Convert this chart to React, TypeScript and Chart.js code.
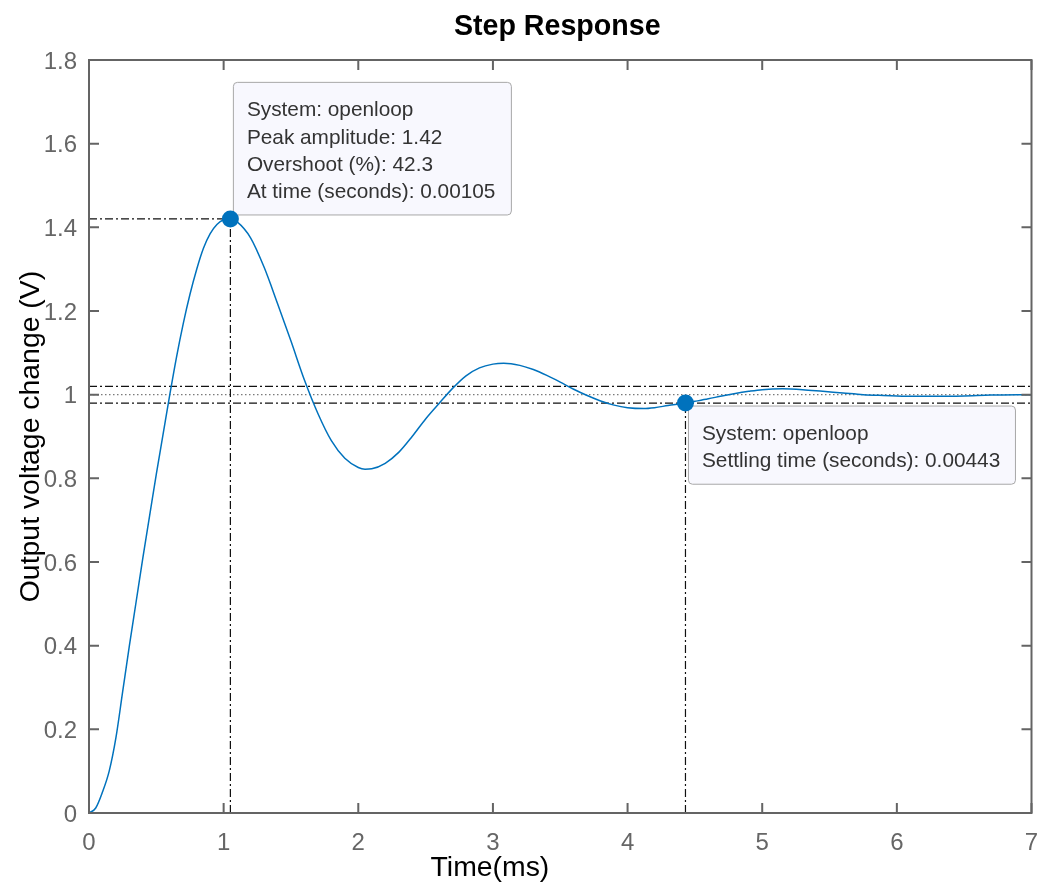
import React, { useEffect, useRef } from "react";
import { Chart, registerables } from "chart.js";

Chart.register(...registerables);

// ---- data ----
const timeMs = [
  0, 0.05, 0.1, 0.15, 0.2, 0.25, 0.3, 0.35, 0.4, 0.45, 0.5, 0.55, 0.6, 0.65, 0.7, 0.75, 0.8, 0.85, 0.9, 0.95, 1.0, 1.05,
  1.1, 1.2, 1.3, 1.4, 1.5, 1.6, 1.7, 1.8, 1.9, 2.0, 2.05, 2.1, 2.2, 2.3, 2.4, 2.5, 2.6, 2.7, 2.8, 2.9, 3.0, 3.08,
  3.2, 3.3, 3.4, 3.5, 3.6, 3.7, 3.8, 3.9, 4.0, 4.12, 4.2, 4.3, 4.43, 4.5, 4.6, 4.7, 4.8, 4.9, 5.0, 5.15,
  5.3, 5.45, 5.6, 5.75, 5.9, 6.1, 6.3, 6.5, 6.7, 7.0,
];
const outputV = [
  0, 0.012, 0.05, 0.1, 0.18, 0.29, 0.4, 0.505, 0.61, 0.71, 0.81, 0.905, 1.0, 1.09, 1.17, 1.24, 1.3, 1.35, 1.385, 1.407, 1.418, 1.42,
  1.413, 1.375, 1.305, 1.218, 1.128, 1.035, 0.955, 0.89, 0.848, 0.826, 0.822, 0.823, 0.836, 0.862, 0.9, 0.942, 0.979, 1.015, 1.045, 1.064, 1.073, 1.075,
  1.07, 1.06, 1.046, 1.03, 1.013, 0.998, 0.985, 0.975, 0.969, 0.967, 0.969, 0.974, 0.98, 0.984, 0.99, 0.997, 1.003, 1.008, 1.012, 1.014,
  1.012, 1.008, 1.004, 1.0, 0.998, 0.996, 0.996, 0.997, 0.999, 1.0,
];

const peakTime = 1.05;
const peakAmplitude = 1.42;
const settlingTime = 4.43;
const settlingValue = 0.98;
const finalValue = 1.0;
const bandUpper = 1.02;
const bandLower = 0.98;

const xTickValues = [0, 1, 2, 3, 4, 5, 6, 7];
const xTickLabels = ["0", "1", "2", "3", "4", "5", "6", "7"];
const yTickValues = [0, 0.2, 0.4, 0.6, 0.8, 1.0, 1.2, 1.4, 1.6, 1.8];
const yTickLabels = ["0", "0.2", "0.4", "0.6", "0.8", "1", "1.2", "1.4", "1.6", "1.8"];

const titleText = "Step Response";
const xTitle = "Time(ms)";
const yTitle = "Output voltage change (V)";
const peakTipLines = ["System: openloop", "Peak amplitude: 1.42", "Overshoot (%): 42.3", "At time (seconds): 0.00105"];
const settleTipLines = ["System: openloop", "Settling time (seconds): 0.00443"];

const FONT = "'Liberation Sans', Arial, Helvetica, sans-serif";
const BLUE = "#0072BD";
const AXIS = "#646464";
const DASHDOT = [8, 3, 2, 3];

function drawTip(ctx: CanvasRenderingContext2D, lines: string[], left: number, top: number | null, bottom: number | null) {
  ctx.save();
  ctx.font = `20.8px ${FONT}`;
  let w = 0;
  lines.forEach((l) => (w = Math.max(w, ctx.measureText(l).width)));
  const width = Math.round(w + 29);
  const height = 34 + (lines.length - 1) * 27.2 + 17;
  const y0 = top !== null ? top : (bottom as number) - height;
  const r = 4;
  ctx.beginPath();
  ctx.moveTo(left + r, y0);
  ctx.lineTo(left + width - r, y0);
  ctx.arcTo(left + width, y0, left + width, y0 + r, r);
  ctx.lineTo(left + width, y0 + height - r);
  ctx.arcTo(left + width, y0 + height, left + width - r, y0 + height, r);
  ctx.lineTo(left + r, y0 + height);
  ctx.arcTo(left, y0 + height, left, y0 + height - r, r);
  ctx.lineTo(left, y0 + r);
  ctx.arcTo(left, y0, left + r, y0, r);
  ctx.closePath();
  ctx.fillStyle = "#f8f8fe";
  ctx.fill();
  ctx.strokeStyle = "#a8a8a8";
  ctx.lineWidth = 1;
  ctx.stroke();
  ctx.fillStyle = "#333333";
  ctx.textAlign = "left";
  ctx.textBaseline = "alphabetic";
  lines.forEach((l, i) => ctx.fillText(l, left + 13.5, y0 + 34 + i * 27.2));
  ctx.restore();
}

const overlayPlugin = {
  id: "overlay",
  beforeDatasetsDraw(chart: any) {
    const ctx = chart.ctx as CanvasRenderingContext2D;
    const xs = chart.scales.x;
    const ys = chart.scales.y;
    drawTip(ctx, peakTipLines, xs.getPixelForValue(peakTime) + 3, null, ys.getPixelForValue(peakAmplitude) - 4);
    drawTip(ctx, settleTipLines, xs.getPixelForValue(settlingTime) + 3, ys.getPixelForValue(settlingValue) + 3, null);
  },
  afterDraw(chart: any) {
    const ctx = chart.ctx as CanvasRenderingContext2D;
    const { left, right, top, bottom } = chart.chartArea;
    const xs = chart.scales.x;
    const ys = chart.scales.y;
    ctx.save();
    ctx.strokeStyle = AXIS;
    ctx.lineWidth = 2;
    ctx.strokeRect(left, top, right - left, bottom - top);
    const tl = 10;
    ctx.beginPath();
    xTickValues.forEach((v) => {
      const px = xs.getPixelForValue(v);
      ctx.moveTo(px, bottom);
      ctx.lineTo(px, bottom - tl);
      ctx.moveTo(px, top);
      ctx.lineTo(px, top + tl);
    });
    yTickValues.forEach((v) => {
      const py = ys.getPixelForValue(v);
      ctx.moveTo(left, py);
      ctx.lineTo(left + tl, py);
      ctx.moveTo(right, py);
      ctx.lineTo(right - tl, py);
    });
    ctx.stroke();

    ctx.fillStyle = "#000000";
    ctx.textAlign = "center";
    ctx.textBaseline = "alphabetic";
    ctx.font = `bold 28.6px ${FONT}`;
    ctx.fillText(titleText, (left + right) / 2 - 3, 35);
    ctx.font = `28.4px ${FONT}`;
    ctx.fillText(xTitle, xs.getPixelForValue(3) - 3, 876);
    ctx.save();
    ctx.translate(38.5, (top + bottom) / 2);
    ctx.rotate(-Math.PI / 2);
    ctx.fillText(yTitle, 0, 0);
    ctx.restore();
    ctx.restore();
  },
};

export default function App() {
  const canvasRef = useRef<HTMLCanvasElement | null>(null);

  useEffect(() => {
    document.body.style.margin = "0";
    const canvas = canvasRef.current;
    if (!canvas) return;

    const guide = (pts: { x: number; y: number }[], dash: number[], color: string, width = 1.2) => ({
      type: "line" as const,
      data: pts,
      borderColor: color,
      borderWidth: width,
      borderDash: dash,
      pointRadius: 0,
      fill: false,
      tension: 0,
    });

    const chart = new Chart(canvas, {
      type: "line",
      data: {
        datasets: [
          {
            type: "scatter" as any,
            data: [
              { x: peakTime, y: peakAmplitude },
              { x: settlingTime, y: settlingValue },
            ],
            backgroundColor: BLUE,
            borderColor: BLUE,
            borderWidth: 0,
            pointRadius: 8.5,
            showLine: false,
          } as any,
          {
            data: timeMs.map((t, i) => ({ x: t, y: outputV[i] })),
            borderColor: BLUE,
            borderWidth: 1.5,
            pointRadius: 0,
            fill: false,
            cubicInterpolationMode: "monotone",
          } as any,
          guide([{ x: 0, y: peakAmplitude }, { x: peakTime, y: peakAmplitude }], DASHDOT, "#111111"),
          guide([{ x: peakTime, y: 0 }, { x: peakTime, y: peakAmplitude }], DASHDOT, "#111111"),
          guide([{ x: 0, y: bandUpper }, { x: 7, y: bandUpper }], DASHDOT, "#111111"),
          guide([{ x: 0, y: bandLower }, { x: 7, y: bandLower }], DASHDOT, "#111111"),
          guide([{ x: 0, y: finalValue }, { x: 7, y: finalValue }], [1.5, 2.5], "#7a7a7a", 1.1),
          guide([{ x: settlingTime, y: 0 }, { x: settlingTime, y: settlingValue }], DASHDOT, "#111111"),
        ] as any,
      },
      options: {
        responsive: false,
        animation: false,
        devicePixelRatio: 1,
        layout: { padding: { left: 0, right: 8, top: 60, bottom: 0 } },
        plugins: { legend: { display: false }, tooltip: { enabled: false }, title: { display: false } },
        scales: {
          x: {
            type: "linear",
            min: 0,
            max: 7,
            afterBuildTicks: (s: any) => {
              s.ticks = xTickValues.map((v) => ({ value: v }));
            },
            afterFit: (s: any) => {
              s.height = 76;
              s.paddingLeft = 0;
              s.paddingRight = 0;
            },
            ticks: {
              autoSkip: false,
              maxRotation: 0,
              padding: 16,
              color: "#666666",
              font: { family: FONT, size: 24 },
              callback: (_v: any, i: number) => xTickLabels[i],
            },
            grid: { display: false, drawTicks: false },
            border: { display: false },
          },
          y: {
            type: "linear",
            min: 0,
            max: 1.8,
            afterBuildTicks: (s: any) => {
              s.ticks = yTickValues.map((v) => ({ value: v }));
            },
            afterFit: (s: any) => {
              s.width = 89;
              s.paddingTop = 0;
              s.paddingBottom = 0;
            },
            ticks: {
              autoSkip: false,
              padding: 12,
              labelOffset: 2,
              color: "#666666",
              font: { family: FONT, size: 24 },
              callback: (_v: any, i: number) => yTickLabels[i],
            },
            grid: { display: false, drawTicks: false },
            border: { display: false },
          },
        },
      } as any,
      plugins: [overlayPlugin],
    });

    return () => chart.destroy();
  }, []);

  return (
    <div style={{ width: 1040, height: 889, background: "#ffffff" }}>
      <canvas ref={canvasRef} width={1040} height={889} style={{ display: "block" }} />
    </div>
  );
}
